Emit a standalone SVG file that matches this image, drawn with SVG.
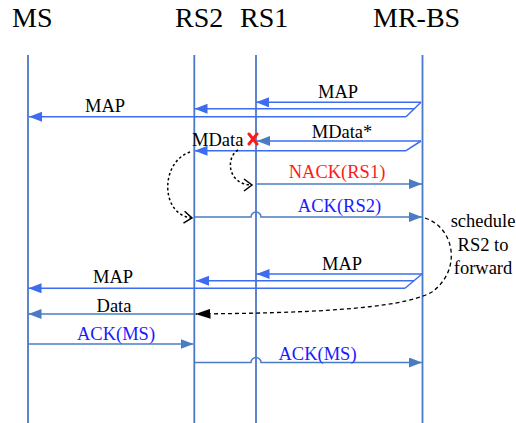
<svg xmlns="http://www.w3.org/2000/svg" width="516" height="423" viewBox="0 0 516 423">
<style>
text{font-family:"Liberation Serif","Times New Roman",serif;font-size:18.5px;fill:#000}
.hd{font-size:28px}
.mid{text-anchor:middle}
.blue{fill:#1a1aff}
.red{fill:#ff1a1a}
.life{stroke:#4a78c8;stroke-width:1.8;fill:none}
.b{stroke:#3d6cf0;stroke-width:1.5;fill:none}
.s{stroke:#4a7cc4;stroke-width:1.5;fill:none}
.dot{stroke:#000;stroke-width:1.5;fill:none;stroke-dasharray:2.5,2.5}
.dash{stroke:#000;stroke-width:1.3;fill:none;stroke-dasharray:4,3}
</style>
<defs>
<marker id="ab" markerUnits="userSpaceOnUse" markerWidth="14" markerHeight="12" refX="13" refY="5" orient="auto"><path d="M0,0 L13,5 L0,10 z" fill="#3d6cf0"/></marker>
<marker id="as" markerUnits="userSpaceOnUse" markerWidth="14" markerHeight="12" refX="13" refY="5" orient="auto"><path d="M0,0 L13,5 L0,10 z" fill="#4a7cc4"/></marker>
<marker id="ak" markerUnits="userSpaceOnUse" markerWidth="16" markerHeight="12" refX="15" refY="5" orient="auto"><path d="M0,0 L15,5 L0,10 z" fill="#000"/></marker>
<marker id="ao" markerUnits="userSpaceOnUse" markerWidth="12" markerHeight="14" refX="9" refY="7" orient="auto"><path d="M1,1 L9,7 L1,13" fill="none" stroke="#000" stroke-width="1.5"/></marker>
</defs>

<g id="MS"><text class="hd" x="12" y="27">MS</text><line class="life" x1="28" y1="55" x2="28" y2="423"/></g>
<g id="RS2"><text class="hd" x="175" y="27">RS2</text><line class="life" x1="194.3" y1="55" x2="194.3" y2="423"/></g>
<g id="RS1"><text class="hd" x="240" y="27">RS1</text><line class="life" x1="256" y1="55" x2="256" y2="423"/></g>
<g id="MR-BS"><text class="hd" x="373" y="27">MR-BS</text><line class="life" x1="422.5" y1="55" x2="422.5" y2="423"/></g>

<g id="connectors">
<!-- MAP group 1 -->
<path class="b" d="M421,102.3 H256" marker-end="url(#ab)"/>
<path class="b" d="M414,108.7 H194.5" marker-end="url(#ab)"/>
<path class="b" d="M406,116.7 H29" marker-end="url(#ab)"/>
<path class="b" d="M421,102.3 L406,116.7"/>
<text class="mid" x="338" y="98">MAP</text>
<text class="mid" x="105" y="112">MAP</text>
<!-- MData* -->
<path class="b" d="M421,141 H257" marker-end="url(#as)"/>
<path class="b" d="M406,150.7 H194.5" marker-end="url(#ab)"/>
<path class="b" d="M421,141 L406,150.7"/>
<text class="mid" x="342" y="138">MData*</text>
<text x="192" y="146">MData</text>
<path d="M249,134 L257,144 M257,134 L249,144" stroke="#ff1a1a" stroke-width="3" stroke-linecap="round"/>
<!-- dotted curves -->
<path class="dot" d="M238,150 C225,158 228,185 252,185" marker-end="url(#ao)"/>
<path class="dot" d="M190,152 C160,162 160,215 192,218" marker-end="url(#ao)"/>
<!-- NACK -->
<path class="s" d="M256,184 H422" marker-end="url(#as)"/>
<text class="mid red" x="337" y="178">NACK(RS1)</text>
<!-- ACK(RS2) -->
<path class="s" d="M194.3,217 H251 A5,5 0 0 1 261,217 H422" marker-end="url(#as)"/>
<text class="mid blue" x="339.5" y="212">ACK(RS2)</text>
<!-- schedule -->
<path class="dash" d="M425,218 C455,228 462,270 432,292 C400,310 300,313 195.5,314" marker-end="url(#ak)"/>
<text class="mid" x="483" y="227">schedule</text>
<text class="mid" x="483" y="251">RS2 to</text>
<text class="mid" x="483" y="274">forward</text>
<!-- MAP group 2 -->
<path class="b" d="M422,274 H256.5" marker-end="url(#ab)"/>
<path class="b" d="M414,280.7 H196" marker-end="url(#ab)"/>
<path class="b" d="M405,288.3 H28.5" marker-end="url(#ab)"/>
<path class="b" d="M422,274 L405,288.3"/>
<text class="mid" x="342" y="270">MAP</text>
<text class="mid" x="113" y="283">MAP</text>
<!-- Data -->
<path class="s" d="M194.3,314 H28.5" marker-end="url(#as)"/>
<text class="mid" x="114" y="311.5">Data</text>
<!-- ACK(MS) 1 -->
<path class="s" d="M28,344 H193.5" marker-end="url(#as)"/>
<text class="mid blue" x="116" y="339.5">ACK(MS)</text>
<!-- ACK(MS) 2 -->
<path class="s" d="M194.3,362.5 H251 A5,5 0 0 1 261,362.5 H422" marker-end="url(#as)"/>
<text class="mid blue" x="317.5" y="359.5">ACK(MS)</text>
</g>
</svg>
